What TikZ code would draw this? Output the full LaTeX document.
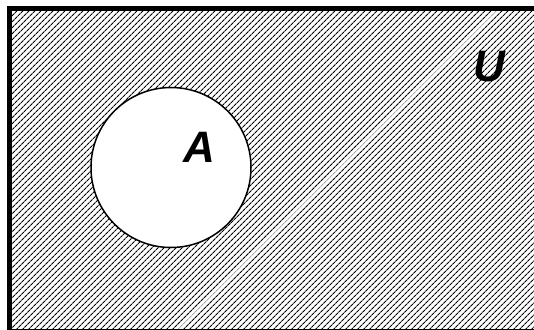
\documentclass[tikz,border=0pt]{standalone}
\usepackage{fontspec}
\setmainfont{Liberation Sans}
\usetikzlibrary{patterns.meta}
\tikzset{
  universe/.style={line width=5pt, draw=black, pattern={Lines[angle=45,distance=4pt,line width=1.2pt]}},
  setcircle/.style={circle, draw=black, line width=1.5pt, fill=white, minimum size=160pt, inner sep=0pt},
  setlabel/.style={font=\fontsize{44}{44}\selectfont\bfseries\itshape, inner sep=0pt}
}
\begin{document}
\begin{tikzpicture}[x=1pt,y=-1pt]
\useasboundingbox (0,0) rectangle (534,329);
\clip (0,0) rectangle (534,329);
\draw[universe] (9.5,8.5) rectangle (537,331);
\node[setcircle] (A) at (171,167.5) {};
\node[setlabel] (Alabel) at (199,147) {A};
\node[setlabel] (Ulabel) at (489,67) {U};
\end{tikzpicture}
\end{document}
